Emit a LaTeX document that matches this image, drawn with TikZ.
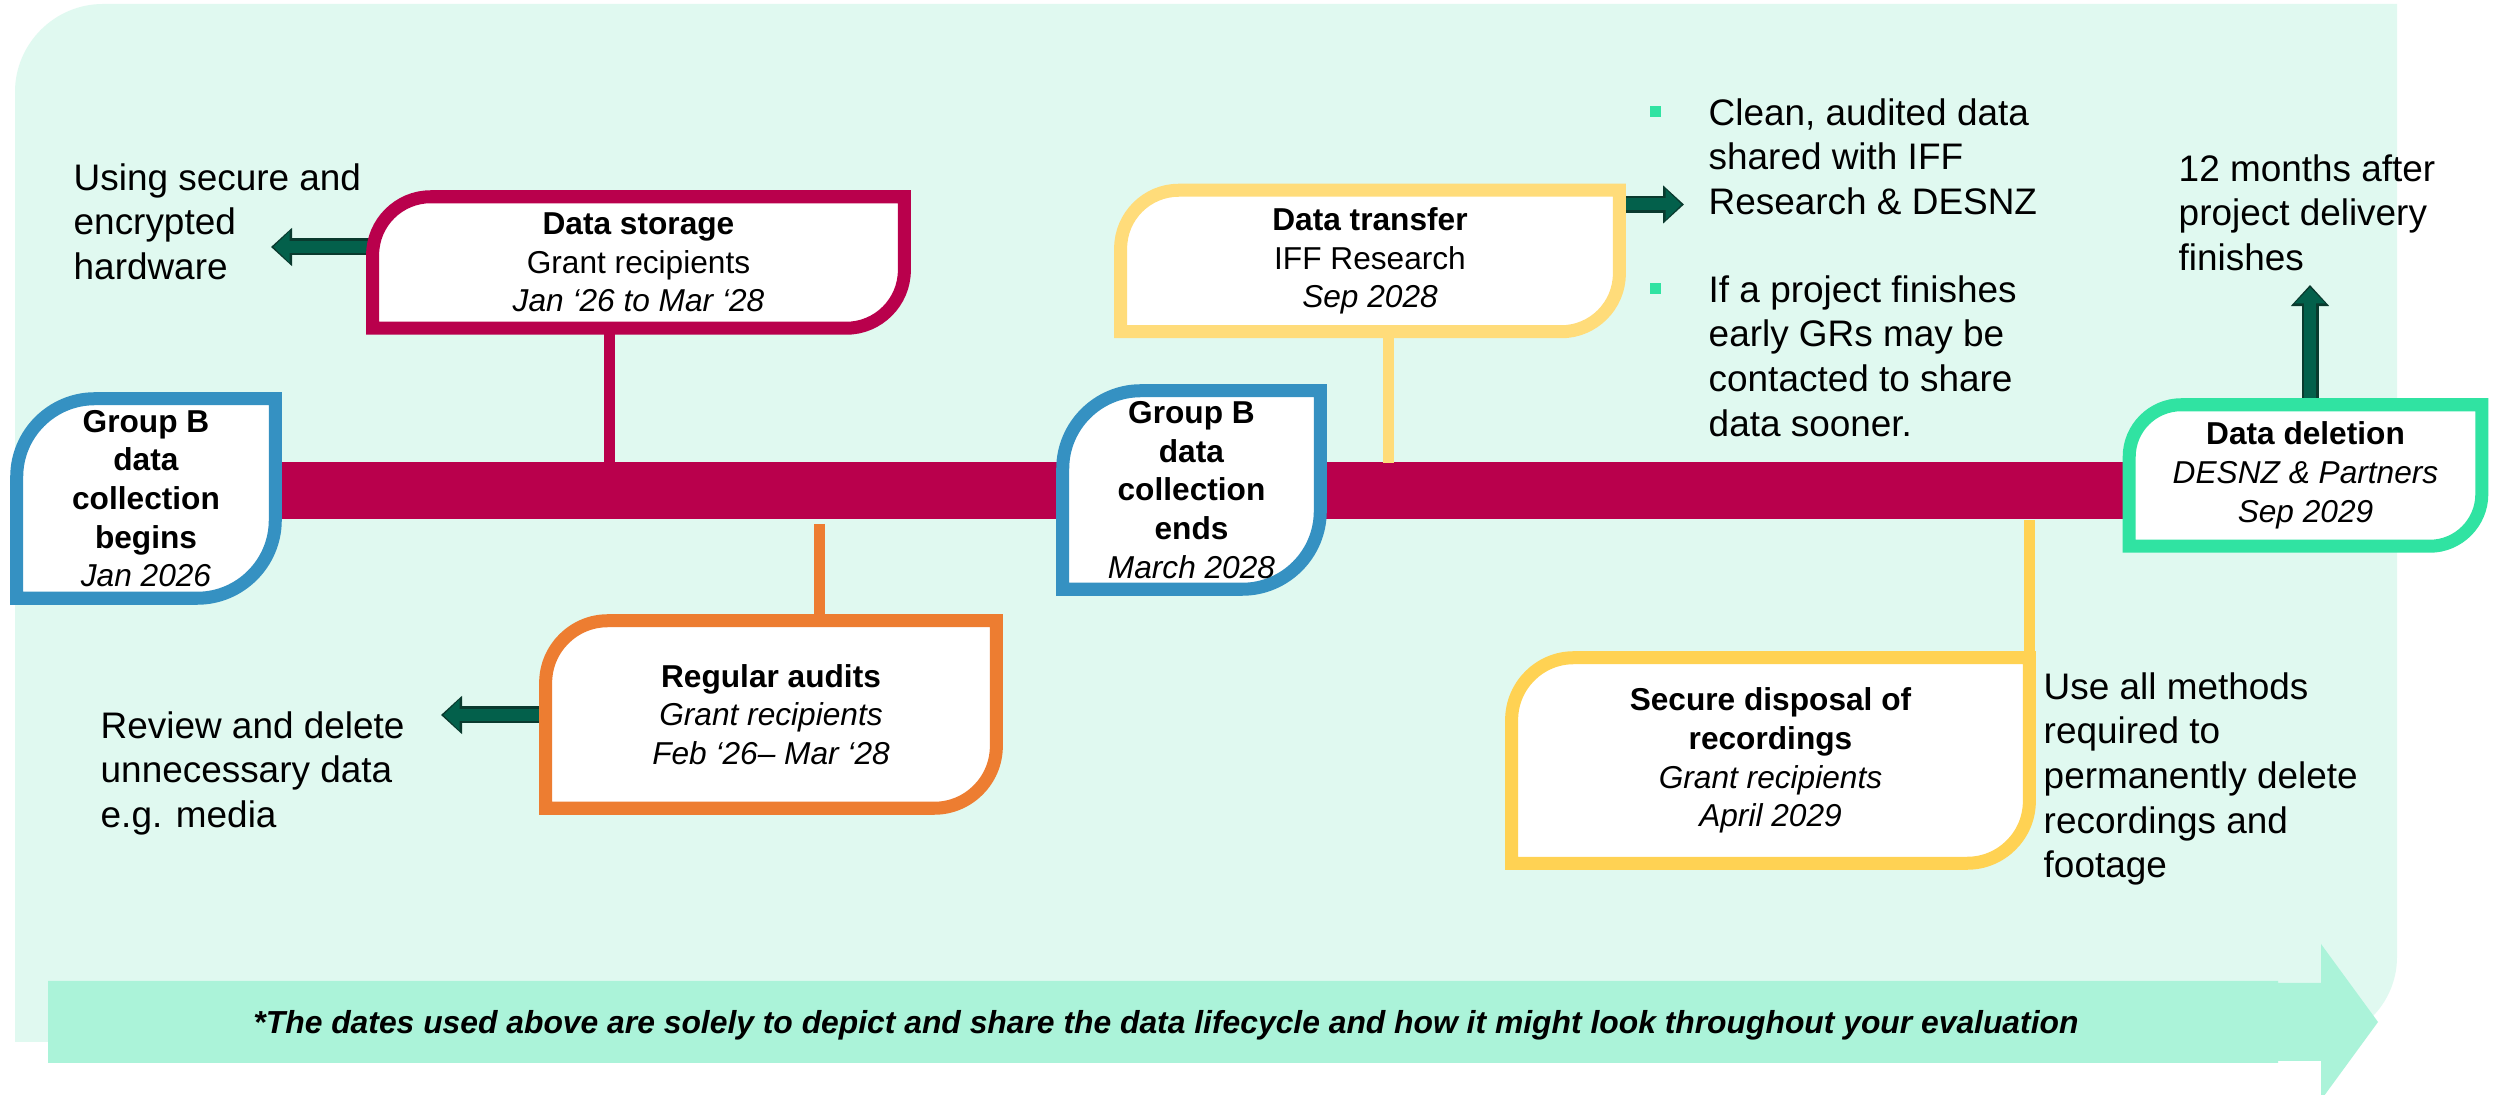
\documentclass[tikz,border=0pt]{standalone}
\usepackage{fontspec}
\setmainfont{Liberation Sans}
\usetikzlibrary{calc,arrows.meta}
\pgfdeclarelayer{back}
\pgfdeclarelayer{mid}
\pgfsetlayers{back,mid,main}
\definecolor{bgmint}{HTML}{E0F9F0}
\definecolor{footgreen}{HTML}{ABF3D9}
\definecolor{crimson}{HTML}{B9004C}
\definecolor{tlblue}{HTML}{3591C2}
\definecolor{tlorange}{HTML}{ED7D31}
\definecolor{lightyellow}{HTML}{FFDC7A}
\definecolor{tlyellow}{HTML}{FFD253}
\definecolor{tlgreen}{HTML}{30E3A2}
\definecolor{arrowfill}{HTML}{03604B}
\definecolor{arrowdark}{HTML}{0A3A2E}
\tikzset{
  boxtext/.style={inner sep=0pt, align=center, font=\fontsize{9}{11}\selectfont},
  sidetext/.style={inner sep=0pt, align=left, anchor=north west, font=\fontsize{10.5}{12.66}\selectfont},
  conn/.style={line width=0.11cm},
  arrowout/.style={line width=0.17cm, draw=arrowdark, -{Triangle[length=0.21cm,width=0.37cm]}},
  arrowin/.style={line width=0.12cm, draw=arrowfill, -{Triangle[length=0.16cm,width=0.30cm]}, shorten >=0.025cm},
  bulletsq/.style={fill=tlgreen, inner sep=0pt, minimum size=0.11cm},
}
\newcommand\tlborder[3]{%
  \draw[line width=0.13cm, draw=#2, fill=white]
    (#1.south west) -- ($(#1.north west)+(0,#3)$)
    .. controls ($(#1.north west)+(0,0.45*#3)$) and ($(#1.north west)+(0.45*#3,0)$) .. ($(#1.north west)+(#3,0)$)
    -- (#1.north east) -- ($(#1.south east)+(0,-#3)$)
    .. controls ($(#1.south east)+(0,-0.45*#3)$) and ($(#1.south east)+(-0.45*#3,0)$) .. ($(#1.south east)+(-#3,0)$)
    -- cycle;}
\newcommand\blockarrow[2]{\draw[arrowout] (#1) -- (#2); \draw[arrowin] (#1) -- (#2);}
\begin{document}
\begin{tikzpicture}[x=0.01cm,y=-0.01cm]
\useasboundingbox (0,0) rectangle (2496,1095);
\begin{pgfonlayer}{back}
  \fill[white] (0,0) rectangle (2496,1095);
  \fill[bgmint] (15,1042) -- (15,92) .. controls (15,43.6) and (54.6,4) .. (103,4)
    -- (2397,4) -- (2397,957) .. controls (2397,1003.75) and (2358.75,1042) .. (2312,1042) -- cycle;
  \fill[footgreen] (48,981) -- (2278,981) -- (2278,983) -- (2321,983) -- (2321,944)
    -- (2378,1022) -- (2321,1100) -- (2321,1061) -- (2278,1061) -- (2278,1063) -- (48,1063) -- cycle;
\end{pgfonlayer}

% boxes (text nodes)
\node[boxtext, minimum width=2.57cm, minimum height=1.98cm] (begins) at (146,498.5)
  {\textbf{Group B}\\\textbf{data}\\\textbf{collection}\\\textbf{begins}\\\textit{Jan 2026}};
\node[boxtext, minimum width=5.30cm, minimum height=1.30cm] (storage) at (638.5,262.5)
  {\textbf{Data storage}\\Grant recipients\\\textit{Jan ‘26 to Mar ‘28}};
\node[boxtext, minimum width=4.49cm, minimum height=1.86cm] (audits) at (771,714.5)
  {\textbf{Regular audits}\\\textit{Grant recipients}\\\textit{Feb ‘26– Mar ‘28}};
\node[boxtext, minimum width=2.56cm, minimum height=1.97cm] (ends) at (1191.5,490)
  {\textbf{Group B}\\\textbf{data}\\\textbf{collection}\\\textbf{ends}\\\textit{March 2028}};
\node[boxtext, minimum width=4.97cm, minimum height=1.40cm] (transfer) at (1370,261)
  {\textbf{Data transfer}\\IFF Research\\\textit{Sep 2028}};
\node[boxtext, minimum width=3.51cm, minimum height=1.40cm] (deletion) at (2305.5,475.5)
  {\textbf{Data deletion}\\\textit{DESNZ \& Partners}\\\textit{Sep 2029}};
\node[boxtext, minimum width=5.16cm, minimum height=2.04cm] (disposal) at (1770.5,760.5)
  {\textbf{Secure disposal of}\\\textbf{recordings}\\\textit{Grant recipients}\\\textit{April 2029}};

% side texts
\node[sidetext] (using) at (73,163) {Using secure and\\encrypted\\hardware};
\node[sidetext] (review) at (100,711) {Review and delete\\unnecessary data\\e.g. media};
\node[sidetext] (clean) at (1708,98) {Clean, audited data\\shared with IFF\\Research \& DESNZ};
\node[sidetext] (early) at (1708,275) {If a project finishes\\early GRs may be\\contacted to share\\data sooner.};
\node[sidetext] (twelve) at (2178,154) {12 months after\\project delivery\\finishes};
\node[sidetext] (useall) at (2043,672) {Use all methods\\required to\\permanently delete\\recordings and\\footage};
\node[bulletsq] (b1) at (1655,112) {};
\node[bulletsq] (b2) at (1655,289) {};

\node[anchor=base, inner sep=0pt, font=\fontsize{9.05}{11}\selectfont\bfseries\itshape] (foot) at (1166,1034)
  {*The dates used above are solely to depict and share the data lifecycle and how it might look throughout your evaluation};

\coordinate (barL) at (146,490.5);
\coordinate (barR) at (2305,490.5);
\coordinate (k1) at (609,462);
\coordinate (k2) at (819,524);
\coordinate (k3) at (1388,463);
\coordinate (k4) at (2029,520);
\coordinate (t1) at (271,247);
\coordinate (t2) at (441,715);
\coordinate (t3) at (1684,204.5);
\coordinate (t4) at (2310,285);

\begin{pgfonlayer}{mid}
  \draw[crimson, line width=0.57cm] (barL) -- (barR);
  \draw[conn, crimson] (k1 |- storage.south) -- (k1);
  \draw[conn, tlorange] (k2) -- (k2 |- audits.north);
  \draw[conn, lightyellow] (k3 |- transfer.south) -- (k3);
  \draw[conn, tlyellow] (k4) -- (k4 |- disposal.north);
  \blockarrow{t1 -| storage.west}{t1}
  \blockarrow{t2 -| audits.west}{t2}
  \blockarrow{t3 -| transfer.east}{t3}
  \blockarrow{t4 |- deletion.north}{t4}
  \tlborder{begins}{tlblue}{78}
  \tlborder{storage}{crimson}{58}
  \tlborder{audits}{tlorange}{62}
  \tlborder{ends}{tlblue}{78}
  \tlborder{transfer}{lightyellow}{58}
  \tlborder{deletion}{tlgreen}{52}
  \tlborder{disposal}{tlyellow}{62}
\end{pgfonlayer}
\end{tikzpicture}
\end{document}
